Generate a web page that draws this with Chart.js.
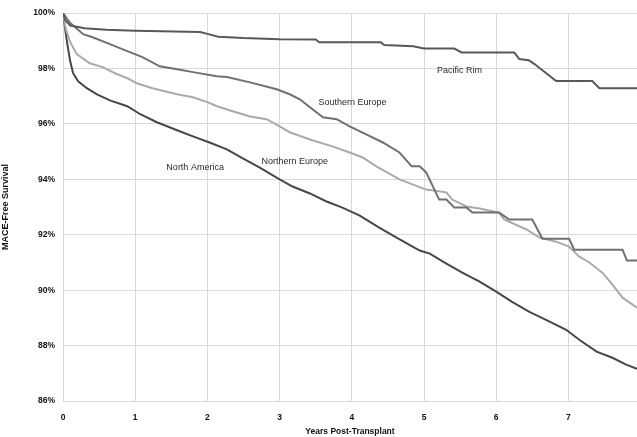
<!DOCTYPE html>
<html lang="en">
<head>
    <meta charset="UTF-8">
    <title>MACE-Free Survival</title>
    <style>
        html, body { margin: 0; padding: 0; background: #fff; }
        #wrap { width: 637px; height: 437px; }
    </style>
</head>
<body>
    <div id="wrap"><canvas id="chart"></canvas></div>
</body>
<script src="https://cdn.jsdelivr.net/npm/chart.js"></script>
<script>
    // years post-transplant / survival %
    const pacificX = [0, 0.03, 0.1, 0.3, 0.6, 1.0, 1.9, 2.0, 2.15, 2.5, 3.0, 3.5, 3.55, 4.4, 4.45, 4.85, 5.0, 5.42, 5.52, 6.25, 6.32, 6.45, 6.53, 6.83, 7.33, 7.43, 7.95]
    const pacificY = [100, 99.75, 99.55, 99.45, 99.4, 99.36, 99.32, 99.25, 99.15, 99.1, 99.06, 99.05, 98.95, 98.95, 98.85, 98.8, 98.72, 98.72, 98.58, 98.58, 98.34, 98.3, 98.16, 97.55, 97.55, 97.29, 97.29]

    const southX = [0, 0.1, 0.28, 0.41, 0.65, 0.89, 1.1, 1.34, 1.58, 1.8, 2.13, 2.27, 2.59, 2.96, 3.14, 3.28, 3.42, 3.6, 3.79, 3.97, 4.2, 4.43, 4.66, 4.83, 4.94, 5.03, 5.21, 5.31, 5.42, 5.59, 5.67, 6.04, 6.18, 6.5, 6.64, 7.01, 7.08, 7.75, 7.81, 7.95]
    const southY = [100, 99.64, 99.24, 99.13, 98.88, 98.63, 98.41, 98.08, 97.97, 97.87, 97.72, 97.69, 97.5, 97.25, 97.07, 96.89, 96.6, 96.24, 96.17, 95.91, 95.62, 95.33, 94.97, 94.47, 94.47, 94.25, 93.27, 93.27, 92.98, 92.98, 92.8, 92.8, 92.55, 92.55, 91.86, 91.86, 91.46, 91.46, 91.07, 91.07]

    const northEuX = [0, 0.04, 0.1, 0.19, 0.37, 0.55, 0.72, 0.89, 1.02, 1.24, 1.58, 1.8, 2.01, 2.13, 2.35, 2.59, 2.82, 3.0, 3.14, 3.42, 3.73, 3.97, 4.15, 4.34, 4.66, 4.84, 5.03, 5.31, 5.39, 5.59, 5.77, 6.04, 6.11, 6.42, 6.6, 6.83, 7.01, 7.15, 7.29, 7.47, 7.61, 7.75, 7.95]
    const northEuY = [100, 99.42, 98.95, 98.52, 98.19, 98.05, 97.83, 97.65, 97.47, 97.29, 97.07, 96.96, 96.78, 96.64, 96.46, 96.27, 96.17, 95.91, 95.7, 95.44, 95.19, 94.97, 94.79, 94.47, 94.0, 93.82, 93.63, 93.53, 93.27, 93.02, 92.95, 92.8, 92.55, 92.19, 91.9, 91.75, 91.57, 91.21, 91.0, 90.63, 90.2, 89.73, 89.37]

    const northAmX = [0, 0.03, 0.06, 0.1, 0.14, 0.21, 0.33, 0.47, 0.65, 0.89, 1.07, 1.3, 1.58, 1.8, 2.03, 2.27, 2.49, 2.72, 3.0, 3.18, 3.42, 3.65, 3.87, 4.11, 4.38, 4.62, 4.94, 5.08, 5.31, 5.53, 5.77, 6.0, 6.22, 6.46, 6.69, 6.97, 7.15, 7.39, 7.61, 7.8, 7.95]
    const northAmY = [100, 99.42, 98.88, 98.26, 97.83, 97.54, 97.29, 97.07, 96.85, 96.64, 96.35, 96.06, 95.77, 95.55, 95.33, 95.08, 94.76, 94.43, 94.0, 93.74, 93.49, 93.2, 92.98, 92.69, 92.26, 91.9, 91.43, 91.32, 90.96, 90.63, 90.31, 89.95, 89.58, 89.22, 88.93, 88.57, 88.21, 87.78, 87.56, 87.31, 87.16]

    const seriesNames = ['Pacific Rim', 'Southern Europe', 'Northern Europe', 'North America']
    const seriesColors = ['#585858', '#707070', '#aaaaaa', '#474747']
    // where the region names sit, in data units
    const labelX = [5.49, 4.01, 3.21, 1.83]
    const labelY = [97.94, 96.78, 94.65, 94.43]

    const yTicks = [86, 88, 90, 92, 94, 96, 98, 100]

    const toPoints = (xs, ys) => xs.map((x, i) => ({x: x, y: ys[i]}))
    const allX = [pacificX, southX, northEuX, northAmX]
    const allY = [pacificY, southY, northEuY, northAmY]

    let datasets = []
    for (let i = 0; i < seriesNames.length; i++) {
        datasets.push({
            label: seriesNames[i],
            data: toPoints(allX[i], allY[i]),
            borderColor: seriesColors[i],
            borderWidth: 2,
            pointRadius: 0,
            tension: 0,
            fill: false
        })
    }

    const regionLabels = {
        id: 'regionLabels',
        afterDatasetsDraw(chart) {
            const ctx = chart.ctx
            const xs = chart.scales.x, ys = chart.scales.y
            ctx.save()
            ctx.font = '9px "Liberation Sans", Arial, sans-serif'
            ctx.fillStyle = '#2a2a2a'
            ctx.textAlign = 'center'
            ctx.textBaseline = 'middle'
            for (let i = 0; i < seriesNames.length; i++) {
                ctx.fillText(seriesNames[i], xs.getPixelForValue(labelX[i]), ys.getPixelForValue(labelY[i]))
            }
            ctx.restore()
        }
    }

    const tickFont = {family: '"Liberation Sans", Arial, sans-serif', size: 8.5, weight: 'bold'}

    new Chart(document.getElementById('chart'), {
        type: 'line',
        data: {datasets: datasets},
        plugins: [regionLabels],
        options: {
            responsive: true,
            maintainAspectRatio: false,
            animation: false,
            layout: {padding: {top: 11, right: 0, left: 0, bottom: 0}},
            plugins: {legend: {display: false}, tooltip: {enabled: false}},
            scales: {
                x: {
                    type: 'linear',
                    min: 0,
                    max: 7.95,
                    afterBuildTicks: (scale) => {
                        scale.ticks = scale.ticks.filter(t => Number.isInteger(t.value))
                    },
                    afterFit: (scale) => { scale.height = 36 },
                    ticks: {stepSize: 1, color: '#111', font: tickFont, padding: 12, maxRotation: 0},
                    grid: {color: '#d9d9d9', lineWidth: 1, drawTicks: false},
                    border: {display: false},
                    title: {
                        display: true,
                        text: 'Years Post-Transplant',
                        color: '#111',
                        font: {family: '"Liberation Sans", Arial, sans-serif', size: 8.5, weight: 'bold'},
                        padding: {top: 2, bottom: 0}
                    }
                },
                y: {
                    min: 86,
                    max: 100,
                    afterBuildTicks: (scale) => {
                        scale.ticks = yTicks.map(v => ({value: v}))
                    },
                    afterFit: (scale) => { scale.width = 63 },
                    ticks: {color: '#111', font: tickFont, padding: 8, callback: v => v + '%'},
                    grid: {color: '#d9d9d9', lineWidth: 1, drawTicks: false},
                    border: {display: false},
                    title: {
                        display: true,
                        text: 'MACE-Free Survival',
                        color: '#111',
                        font: {family: '"Liberation Sans", Arial, sans-serif', size: 9, weight: 'bold'},
                        padding: {top: 0, bottom: 2}
                    }
                }
            }
        }
    })
</script>
</html>
